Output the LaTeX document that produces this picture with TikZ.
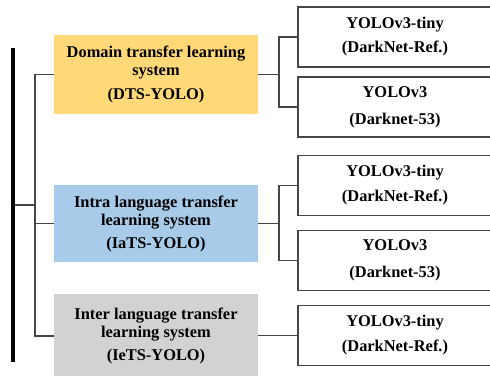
\documentclass[tikz,border=0pt]{standalone}
\usepackage{fontspec}
\setmainfont{Liberation Serif}
\definecolor{dtsyellow}{RGB}{255,217,120}
\definecolor{iatsblue}{RGB}{168,203,234}
\definecolor{ietsgray}{RGB}{210,210,210}
\definecolor{linegray}{RGB}{70,70,70}
\begin{document}
\begin{tikzpicture}[x=1pt,y=-1pt,
  sysbox/.style={draw=none, minimum width=204pt, inner sep=0pt, align=center,
    font=\fontsize{16.4}{18}\selectfont\bfseries},
  modbox/.style={draw=linegray, line width=1.1pt, minimum width=194pt, minimum height=60pt,
    inner sep=0pt, align=center, font=\fontsize{16.4}{18}\selectfont\bfseries},
  conn/.style={draw=linegray, line width=1.1pt}]
\useasboundingbox (0,0) rectangle (490,375);
\clip (0,0) rectangle (490,375);
% thick bar
\node[fill=black, minimum width=4pt, minimum height=314pt, inner sep=0pt] (bar) at (13,205) {};
% system boxes
\node[sysbox, fill=dtsyellow, minimum height=79pt] (dts) at (156,74.5)
  {Domain transfer learning\\ system\\[6pt] (DTS-YOLO)};
\node[sysbox, fill=iatsblue, minimum height=77pt] (iats) at (156,223.5)
  {Intra language transfer\\ learning system\\[5pt] (IaTS-YOLO)};
\node[sysbox, fill=ietsgray, minimum height=84pt] (iets) at (156,336)
  {Inter language transfer\\ learning system\\[5pt] (IeTS-YOLO)};
% model boxes
\node[modbox] (m1) at (395,37) {YOLOv3-tiny\\[6pt] (DarkNet-Ref.)};
\node[modbox] (m2) at (395,107) {YOLOv3\\[9pt] (Darknet-53)};
\node[modbox] (m3) at (395,185.5) {YOLOv3-tiny\\[7pt] (DarkNet-Ref.)};
\node[modbox] (m4) at (395,260.5) {YOLOv3\\[9pt] (Darknet-53)};
\node[modbox] (m5) at (395,335.5) {YOLOv3-tiny\\[7pt] (DarkNet-Ref.)};
% trunk coordinates
\coordinate (tmid) at (35,205);
\coordinate (j1) at (279,74.5);
\coordinate (j2) at (279,223.5);
% left tree
\draw[conn] (bar.east |- tmid) -- (tmid);
\draw[conn] (dts.west) -| (tmid |- dts.west) |- (iets.west);
\draw[conn] (iats.west) -- (tmid |- iats.west);
% right trees
\draw[conn] (dts.east) -- (j1);
\draw[conn] (m1.west) -| (j1) |- (m2.west);
\draw[conn] (iats.east) -- (j2);
\draw[conn] (m3.west) -| (j2) |- (m4.west);
\draw[conn] (iets.east |- m5.west) -- (m5.west);
\end{tikzpicture}
\end{document}
